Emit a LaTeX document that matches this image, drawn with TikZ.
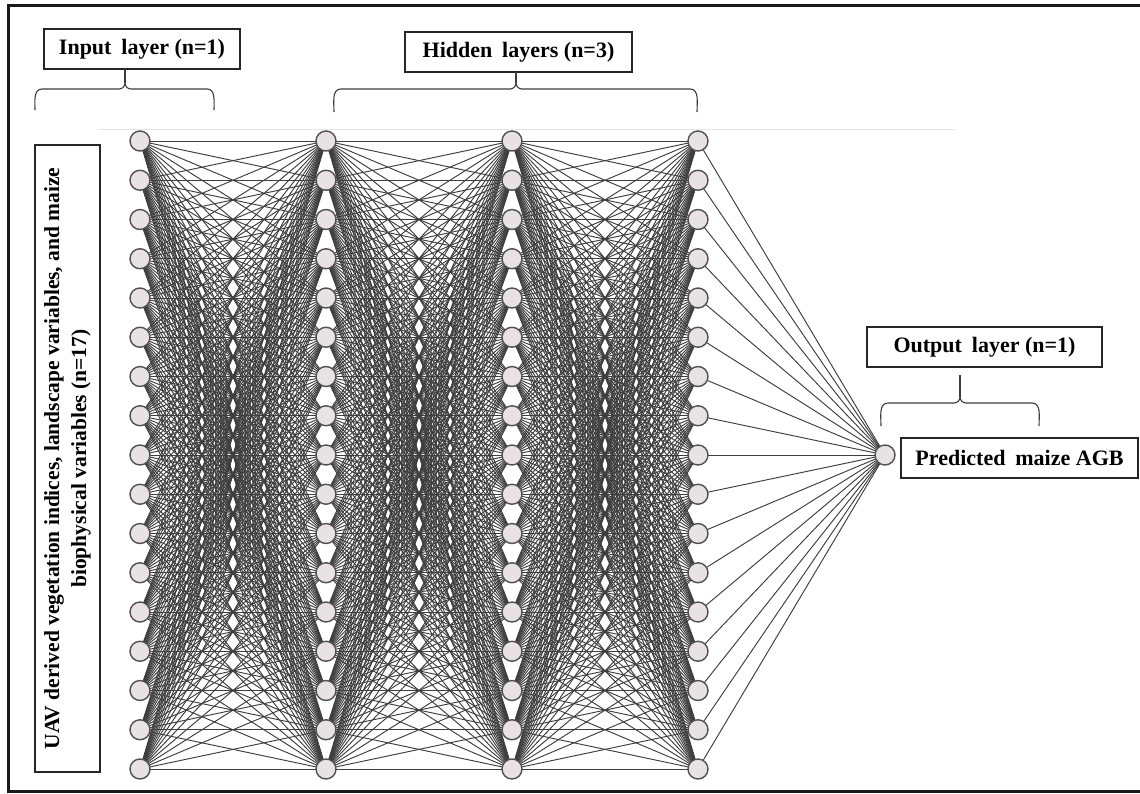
\documentclass[tikz,border=0pt]{standalone}
\usepackage{fontspec}
\setmainfont{Liberation Serif}
\usetikzlibrary{backgrounds}

\definecolor{neuronfill}{RGB}{232,226,228}
\definecolor{neuronline}{RGB}{80,80,80}
\definecolor{edgecol}{RGB}{62,62,62}
\definecolor{framecol}{RGB}{25,25,25}
\definecolor{bracecol}{RGB}{60,60,60}

% curly brace: left x, right x, tip x, bar y, foot y
\newcommand\layerbrace[5]{%
  \draw[bracestyle] (#1,#5) to[out=90,in=180] (#1+7,#4) -- (#3-6,#4) to[out=0,in=-90] (#3,#4-6);
  \draw[bracestyle] (#2,#5) to[out=90,in=0] (#2-7,#4) -- (#3+6,#4) to[out=180,in=-90] (#3,#4-6);
}

\begin{document}
\begin{tikzpicture}[x=1pt,y=-1pt,
  neuron/.style={circle, draw=neuronline, line width=1.4pt, fill=neuronfill,
    minimum size=20pt, inner sep=0pt},
  edge/.style={draw=edgecol, line width=0.95pt},
  labelbox/.style={draw=black!85, line width=1.1pt, fill=white, inner sep=0pt,
    minimum height=40pt, font=\fontsize{22}{26}\selectfont\bfseries},
  bracestyle/.style={draw=bracecol, line width=1.1pt},
  frameline/.style={draw=framecol, line width=3pt}]

\useasboundingbox (0,0) rectangle (1140,793);

% outer frame (open at the right edge)
\draw[frameline] (1150,5) -- (8,5) -- (8,791) -- (1150,791);

% faint guide line above the network
\draw[black!10, line width=1pt] (98,129) -- (955,129);

% neurons: input layer and three hidden layers
\foreach \l/\x in {1/140, 2/326, 3/512, 4/698}
  \foreach \i in {1,...,17}
    \node[neuron] (n\l-\i) at (\x, {141 + (\i-1)*39.25}) {};

% output neuron
\node[neuron] (out) at (885, 455) {};

% fully connected weights
\begin{scope}[on background layer]
  \foreach \l/\m in {1/2, 2/3, 3/4}
    \foreach \i in {1,...,17}
      \foreach \j in {1,...,17}
        \draw[edge] (n\l-\i.center) -- (n\m-\j.center);
  \foreach \i in {1,...,17}
    \draw[edge] (n4-\i.center) -- (out.center);
\end{scope}

% layer captions
\node[labelbox, minimum width=196pt] (inbox) at (142,49) {Input\hspace{0.2em} layer (n=1)};
\node[labelbox, minimum width=227pt] (hidbox) at (518.5,52) {Hidden\hspace{0.2em} layers (n=3)};
\node[labelbox, minimum width=235pt] (outbox) at (984.5,347) {Output\hspace{0.2em} layer (n=1)};
\node[labelbox, minimum width=237pt] (predbox) at (1019.5,458) {Predicted\hspace{0.2em} maize AGB};

% input variables description
\node[draw=black!85, line width=1.1pt, rotate=90, minimum width=627pt, minimum height=65pt,
  inner sep=0pt, align=center, font=\fontsize{21.5}{27}\selectfont\bfseries] (invars) at (67.5,458.5)
  {UAV derived vegetation indices, landscape variables, and maize\\ biophysical variables (n=17)};

% braces grouping the layers
\layerbrace{35}{214}{125}{89}{110}
\draw[bracestyle] (125,83) -- (125,69);
\layerbrace{334}{697}{516}{89}{112}
\draw[bracestyle] (516,83) -- (516,72);
\layerbrace{881}{1039}{960}{403}{426}
\draw[bracestyle] (960,397) -- (960,375);

\end{tikzpicture}
\end{document}
